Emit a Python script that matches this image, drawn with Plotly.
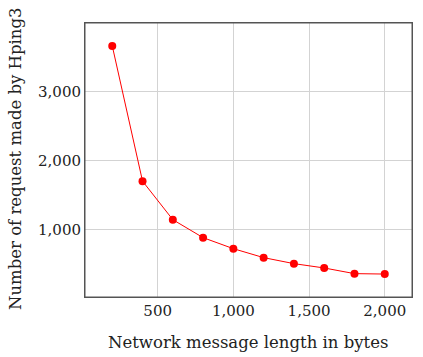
import plotly.graph_objects as go

# message length (bytes) vs. number of requests
msg_length = [200, 400, 600, 800, 1000, 1200, 1400, 1600, 1800, 2000]
requests = [3662, 1700, 1141, 880, 720, 590, 503, 440, 358, 352]

x_ticks = [500, 1000, 1500, 2000]
y_ticks = [1000, 2000, 3000]

FONT = "DejaVu Serif"
L, R, T, B = 85, 11, 23, 60
W, H = 423, 357
pw, ph = W - L - R, H - T - B

AXIS = dict(
    showgrid=True, gridcolor="#d3d3d3", gridwidth=1,
    showline=True, linecolor="#555555", linewidth=1, mirror=True,
    zeroline=False, ticks="", tickformat=",d", automargin=False,
    tickfont=dict(family=FONT, size=15, color="#222"),
)

fig = go.Figure(go.Scatter(
    x=msg_length, y=requests, mode="lines+markers",
    line=dict(color="#ff0000", width=1),
    marker=dict(color="#ff0000", size=8),
))
fig.update_layout(
    width=W, height=H,
    margin=dict(l=L, r=R, t=T, b=B),
    paper_bgcolor="white", plot_bgcolor="white",
    showlegend=False,
    font=dict(family=FONT, color="#222"),
    xaxis=dict(AXIS, range=[20, 2180], tickvals=x_ticks),
    yaxis=dict(AXIS, range=[19, 3994], tickvals=y_ticks),
    shapes=[dict(type="rect", xref="paper", yref="paper", x0=0, x1=1, y0=0, y1=1,
                 line=dict(color="#555555", width=1))],
    annotations=[
        dict(text="Network message length in bytes", xref="paper", yref="paper",
             x=(248 - L) / pw, y=(T + ph - 342) / ph, xanchor="center", yanchor="middle",
             showarrow=False, font=dict(family=FONT, size=16.5, color="#222")),
        dict(text="Number of request made by Hping3", xref="paper", yref="paper",
             x=(15 - L) / pw, y=(T + ph - 159) / ph, xanchor="center", yanchor="middle",
             textangle=-90, showarrow=False, font=dict(family=FONT, size=16.5, color="#222")),
    ],
)
# drop the browser's default 8px body margin so the figure sits at the window corner
fig.write_html("out.html", config={"displayModeBar": False},
               post_script="document.body.style.margin = '0';")
